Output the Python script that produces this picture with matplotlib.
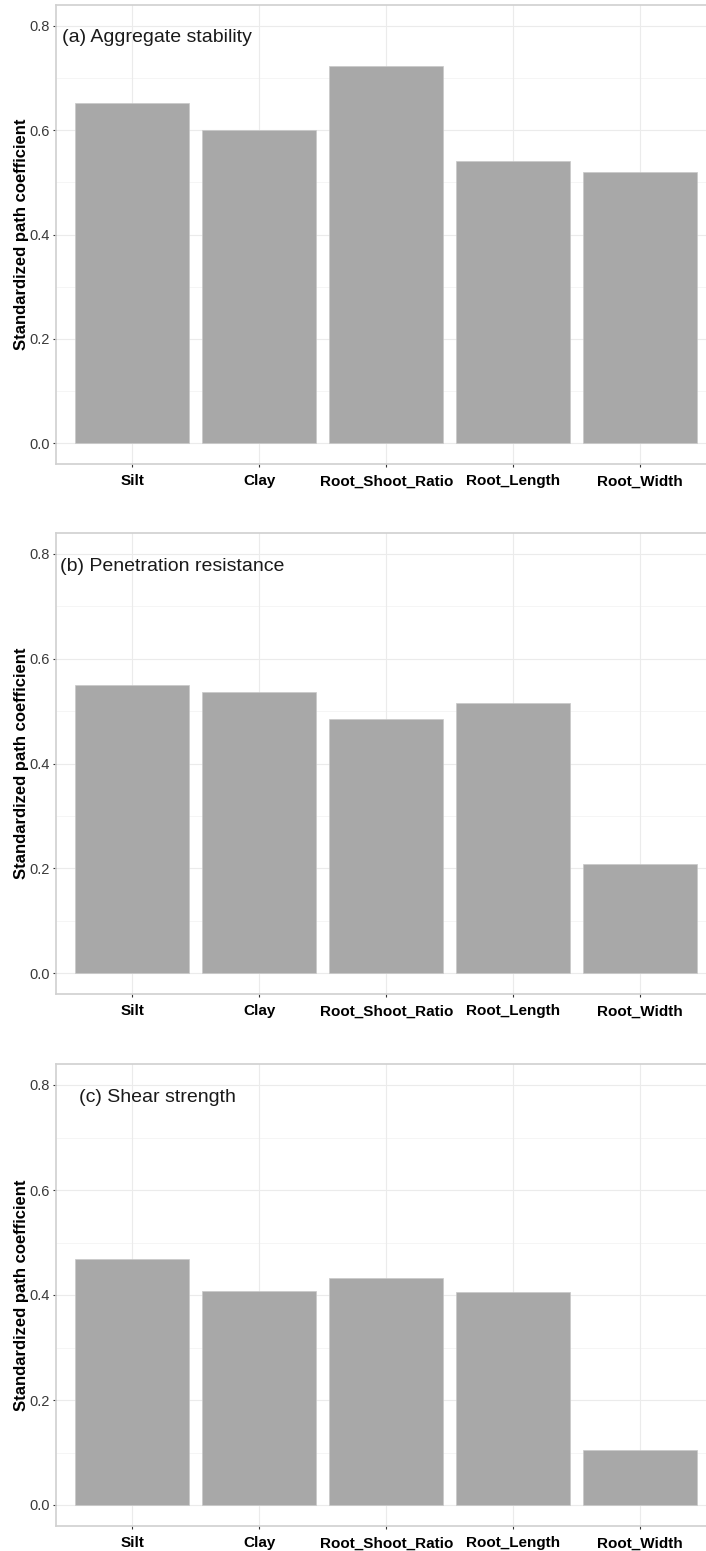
import matplotlib.pyplot as plt
import numpy as np

plt.rcParams['font.family'] = ['Liberation Sans', 'DejaVu Sans']

# data
categories = ['Silt', 'Clay', 'Root_Shoot_Ratio', 'Root_Length', 'Root_Width']
aggregate_stability = [0.653, 0.600, 0.723, 0.541, 0.520]
penetration_resistance = [0.549, 0.536, 0.484, 0.515, 0.209]
shear_strength = [0.469, 0.407, 0.433, 0.406, 0.104]
titles = ['(a) Aggregate stability', '(b) Penetration resistance', '(c) Shear strength']
title_x = [-0.55, -0.57, -0.42]
series = [aggregate_stability, penetration_resistance, shear_strength]
yticks = [0.0, 0.2, 0.4, 0.6, 0.8]

W, H = 706, 1551
fig = plt.figure(figsize=(W / 100, H / 100), dpi=100)
fig.set_facecolor('white')

# panel pixel extents (top, bottom)
panels = [(5, 464), (533, 994), (1064, 1526)]
left_px, width_px = 56, 660.5

x = np.arange(len(categories))
for vals, title, tx, (top, bot) in zip(series, titles, title_x, panels):
    ax = fig.add_axes([left_px / W, 1 - bot / H, width_px / W, (bot - top) / H])
    ax.set_facecolor('white')

    # grid
    for v in np.arange(0.1, 0.8, 0.2):
        ax.axhline(v, color='#f4f4f4', lw=0.6, zorder=0)
    for v in yticks:
        ax.axhline(v, color='#ebebeb', lw=0.8, zorder=0)
    for xi in x:
        ax.axvline(xi, color='#ebebeb', lw=0.8, zorder=0)

    ax.bar(x, vals, width=0.9, color='#a8a8a8', edgecolor='#c8c8c8',
           linewidth=0.5, zorder=2)

    ax.set_xlim(-0.6, 4.6)
    ax.set_ylim(-0.04, 0.84)
    ax.set_xticks(x)
    ax.set_xticklabels(categories, fontsize=11, fontweight='bold', color='black')
    ax.set_yticks(yticks)
    ax.set_yticklabels(['%.1f' % v for v in yticks], fontsize=10.5, color='#3a3a3a')
    ax.tick_params(axis='both', length=2.5, width=0.8, color='#333333', pad=2)
    ax.tick_params(axis='x', pad=5)

    for s in ax.spines.values():
        s.set_color('#d0d0d0')
        s.set_linewidth(1.2)

    ax.set_ylabel('Standardized path coefficient', fontsize=12, fontweight='bold')
    ax.yaxis.set_label_coords(-0.041, 0.5)
    ax.text(tx, 0.777, title, fontsize=14, ha='left', va='center', color='#1a1a1a')

plt.savefig('out.png', dpi=100)
